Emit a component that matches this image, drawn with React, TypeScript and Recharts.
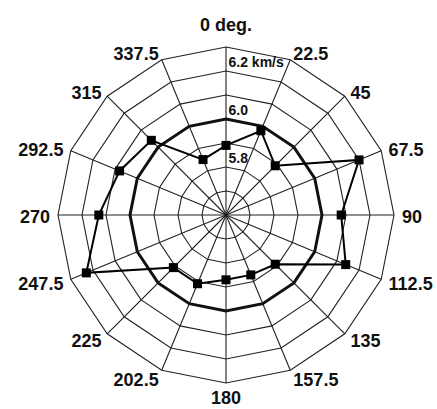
import { RadarChart, Radar, PolarGrid, PolarAngleAxis, PolarRadiusAxis } from 'recharts';

const directions = ['0 deg.', '22.5', '45', '67.5', '90', '112.5', '135', '157.5', '180', '202.5', '225', '247.5', '270', '292.5', '315', '337.5'];
const speed = [5.89, 5.98, 5.89, 6.2, 6.08, 6.14, 5.89, 5.87, 5.87, 5.91, 5.91, 6.23, 6.13, 6.08, 6.04, 5.85];
const meanRing = [6.0, 6.0, 6.0, 6.0, 6.0, 6.0, 6.0, 6.0, 6.0, 6.0, 6.0, 6.0, 6.0, 6.0, 6.0, 6.0];
const ringTicks = [5.6, 5.7, 5.8, 5.9, 6.0, 6.1, 6.2, 6.3];
const radiusLabels = [5.8, 6.0, 6.2];

const data = directions.map((dir, i) => ({ dir, speed: speed[i], mean: meanRing[i] }));

const font = '"Liberation Sans", Arial, sans-serif';

function AngleTick(props: any) {
  const { x, y, textAnchor, payload, index } = props;
  let dy = 8;
  if (index === 0) dy = -8;
  if (index === 8) dy = 13;
  return (
    <text x={x} y={y} dy={dy} textAnchor={textAnchor} fontFamily={font} fontWeight="bold" fontSize={18} fill="#111">
      {payload.value}
    </text>
  );
}

function RadiusTick(props: any) {
  const { x, y, payload } = props;
  const v = Number(payload.value);
  const hit = radiusLabels.find((l) => Math.abs(l - v) < 1e-6);
  if (hit === undefined) return <g />;
  const label = hit === 6.2 ? '6.2 km/s' : hit.toFixed(1);
  return (
    <text x={x + 2.5} y={y - 4} textAnchor="start" fontFamily={font} fontWeight="bold" fontSize={14} fill="#111">
      {label}
    </text>
  );
}

function SquareDot(props: any) {
  const { cx, cy } = props;
  return <rect x={cx - 4.5} y={cy - 4.5} width={9} height={9} fill="#000" />;
}

export default function App() {
  return (
    <div style={{ position: 'absolute', left: 0, top: 0, background: '#fff' }}>
      <RadarChart width={437} height={409} data={data} cx={226} cy={215} outerRadius={168} margin={{ top: 0, right: 0, bottom: 0, left: 0 }}>
        <PolarGrid gridType="polygon" stroke="#222" strokeWidth={1.1} strokeOpacity={1} />
        <PolarAngleAxis dataKey="dir" tick={<AngleTick />} tickLine={false} axisLine={false} />
        <PolarRadiusAxis angle={90} type="number" domain={[5.6, 6.3]} ticks={ringTicks} allowDecimals axisLine={false} tickLine={false} tick={<RadiusTick />} />
        <Radar dataKey="mean" stroke="#111" strokeWidth={3} fill="none" fillOpacity={0} dot={false} isAnimationActive={false} />
        <Radar dataKey="speed" stroke="#000" strokeWidth={2} fill="none" fillOpacity={0} dot={<SquareDot />} isAnimationActive={false} />
      </RadarChart>
    </div>
  );
}
